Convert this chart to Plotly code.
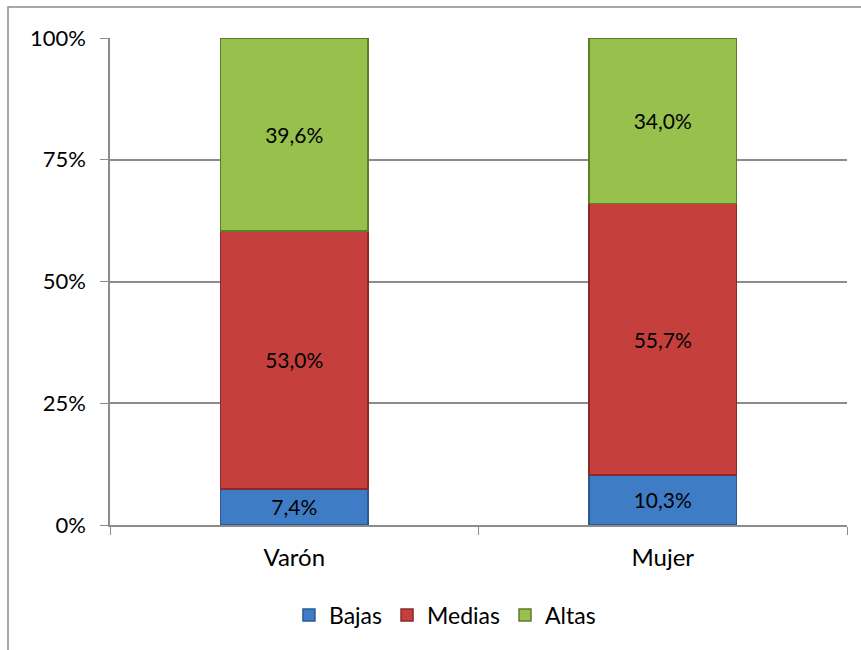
# Distribución por sexo: barras apiladas al 100%
import plotly.graph_objects as go

sexo = ["Varón", "Mujer"]
bajas = [7.4, 10.3]
medias = [53.0, 55.7]
altas = [39.6, 34.0]
ticks_y = [0, 25, 50, 75, 100]
ticks_y_txt = ["0%", "25%", "50%", "75%", "100%"]

series = [
    ("Bajas", bajas, "#3F7CC6", "#2A5A94"),
    ("Medias", medias, "#C5403D", "#8A2A28"),
    ("Altas", altas, "#97C04C", "#5E7C2C"),
]

fig = go.Figure()
for nombre, valores, color, borde in series:
    fig.add_trace(go.Bar(
        x=sexo, y=valores, name=nombre,
        marker={"color": color, "line": {"color": borde, "width": 1.5}},
        texttemplate="%{y:.1f}%", textposition="inside",
        insidetextanchor="middle",
        textfont={"color": "black", "size": 21},
    ))

gris = "#8C8C8C"
fig.update_layout(
    barmode="stack", bargap=0.6,
    separators=",.",
    width=861, height=650,
    margin={"l": 110, "r": 14, "t": 38, "b": 125},
    paper_bgcolor="white", plot_bgcolor="white",
    font={"family": "Lato, Carlito, sans-serif", "size": 22, "color": "black"},
    showlegend=True,
    legend={"orientation": "h", "x": 0.4545, "xanchor": "center",
            "y": -0.185, "yanchor": "middle", "font": {"size": 23},
            "traceorder": "normal"},
    xaxis={"showline": True, "linecolor": gris, "linewidth": 1.5,
           "ticks": "outside", "tickson": "boundaries", "ticklen": 8,
           "tickcolor": gris, "tickfont": {"size": 24},
           "ticklabelstandoff": 10},
    yaxis={"range": [0, 100], "tickvals": ticks_y, "ticktext": ticks_y_txt,
           "showgrid": True, "gridcolor": gris, "gridwidth": 1.5,
           "showline": True, "linecolor": gris, "linewidth": 1.5,
           "ticks": "outside", "ticklen": 8, "tickcolor": gris,
           "tickfont": {"size": 22}, "zeroline": False,
           "ticklabelstandoff": 10},
    shapes=[{"type": "rect", "xref": "paper", "yref": "paper",
             "x0": -102 / 737, "x1": 1.1, "y0": -0.5, "y1": 1 + 31 / 487,
             "line": {"color": gris, "width": 1.5}, "layer": "below"}],
)

fig.write_html("out.html", config={"displayModeBar": False},
               post_script="document.body.style.margin='0';")
